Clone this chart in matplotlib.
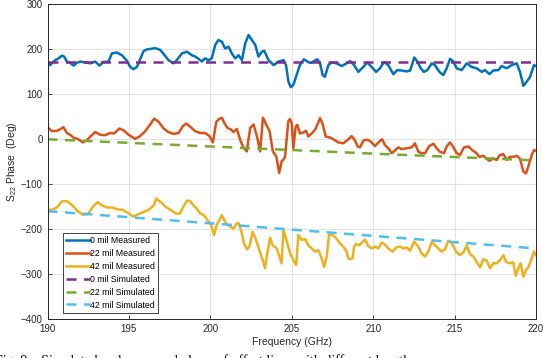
import numpy as np
import matplotlib.pyplot as plt

plt.rcParams['font.family'] = ['Liberation Sans', 'DejaVu Sans']
plt.rcParams['mathtext.default'] = 'regular'

# ---- 0 mil measured ----
f_0m = [190.00, 190.16, 190.47, 190.68, 190.88, 191.02, 191.19, 191.39, 191.60, 191.80,
        192.01, 192.31, 192.62, 192.93, 193.19, 193.44, 193.75, 193.95, 194.26, 194.57,
        194.87, 195.08, 195.28, 195.49, 195.69, 195.90, 196.10, 196.31, 196.61, 196.92,
        197.13, 197.43, 197.74, 197.94, 198.25, 198.56, 198.87, 199.07, 199.28, 199.48,
        199.68, 199.89, 200.09, 200.30, 200.50, 200.71, 200.91, 201.12, 201.32, 201.53,
        201.73, 201.94, 202.14, 202.35, 202.55, 202.76, 202.96, 203.17, 203.31, 203.58,
        203.89, 204.19, 204.50, 204.65, 204.80, 204.94, 205.10, 205.30, 205.50, 205.75,
        205.92, 206.12, 206.33, 206.57, 206.74, 206.90, 207.04, 207.25, 207.45, 207.76,
        208.07, 208.37, 208.58, 208.83, 209.09, 209.40, 209.64, 209.91, 210.18, 210.42,
        210.67, 210.93, 211.24, 211.49, 211.75, 212.06, 212.27, 212.53, 212.72, 212.92,
        213.12, 213.33, 213.60, 213.80, 214.07, 214.31, 214.52, 214.72, 214.93, 215.13,
        215.44, 215.75, 216.05, 216.36, 216.67, 216.87, 217.14, 217.38, 217.69, 217.90,
        218.20, 218.51, 218.82, 219.02, 219.23, 219.43, 219.64, 219.88, 220.00]
p_0m = [169, 165, 176, 180, 186, 184, 173, 170, 164, 170,
        173, 171, 169, 173, 164, 172, 173, 191, 193, 187,
        175, 161, 156, 161, 178, 196, 200, 201, 203, 199,
        190, 176, 169, 176, 191, 195, 187, 184, 179, 173,
        180, 176, 180, 210, 221, 217, 202, 206, 191, 180,
        187, 176, 213, 232, 221, 210, 184, 195, 197, 176,
        165, 173, 176, 165, 128, 116, 121, 143, 165, 178,
        174, 170, 173, 178, 169, 143, 139, 165, 171, 169,
        163, 169, 174, 165, 150, 161, 171, 161, 150, 158,
        172, 165, 145, 154, 153, 151, 153, 182, 173, 158,
        150, 154, 169, 165, 150, 143, 158, 179, 173, 158,
        154, 169, 161, 158, 150, 154, 145, 153, 154, 163,
        158, 165, 169, 150, 119, 128, 139, 165, 163]

# ---- 22 mil measured ----
f_22m = [190.00, 190.27, 190.57, 190.82, 190.98, 191.19, 191.43, 191.60, 191.84, 192.17,
         192.42, 192.66, 192.93, 193.24, 193.54, 193.85, 194.09, 194.42, 194.67, 194.98,
         195.38, 195.69, 196.00, 196.31, 196.55, 196.82, 197.13, 197.43, 197.74, 198.05,
         198.31, 198.52, 198.76, 199.07, 199.38, 199.68, 199.95, 200.16, 200.36, 200.50,
         200.71, 200.85, 201.06, 201.26, 201.42, 201.63, 201.83, 202.04, 202.24, 202.45,
         202.65, 202.86, 203.06, 203.23, 203.43, 203.64, 203.84, 204.05, 204.23, 204.39,
         204.48, 204.59, 204.69, 204.79, 204.89, 205.00, 205.10, 205.24, 205.34, 205.51,
         205.71, 205.88, 206.02, 206.23, 206.43, 206.63, 206.74, 206.88, 207.09, 207.35,
         207.60, 207.86, 208.17, 208.48, 208.68, 208.89, 209.05, 209.19, 209.40, 209.64,
         209.85, 210.12, 210.38, 210.55, 210.73, 210.93, 211.14, 211.34, 211.55, 211.75,
         212.06, 212.37, 212.57, 212.78, 212.98, 213.19, 213.45, 213.70, 213.90, 214.11,
         214.35, 214.52, 214.72, 214.89, 215.13, 215.34, 215.58, 215.85, 216.11, 216.32,
         216.52, 216.77, 216.97, 217.14, 217.38, 217.59, 217.79, 218.00, 218.20, 218.41,
         218.61, 218.82, 219.02, 219.23, 219.39, 219.53, 219.74, 219.88, 220.00]
p_22m = [27, 18, 19, 23, 27, 14, 9, 3, 1, -7,
         -2, 7, 16, 10, 9, 14, 13, 24, 20, 10,
         1, 7, 18, 33, 46, 39, 24, 16, 12, 14,
         29, 35, 28, 18, 14, 14, 7, -7, 38, 44,
         48, 37, 25, 22, 16, 23, -1, -19, -27, 25,
         33, 7, -27, 48, 33, 18, -27, -38, -75, -48,
         -46, -39, 0, 40, 45, 36, -20, 28, 32, 13,
         15, 19, 6, 13, 21, 37, 47, 36, 6, 4,
         -1, -7, -9, 0, 7, -3, -16, -18, -3, -1,
         -5, -15, -5, 0, -13, -20, -31, -25, -18, -22,
         -20, -18, -9, -28, -31, -31, -15, -10, -20, -28,
         -31, -16, -7, -15, -31, -35, -18, -16, -25, -30,
         -39, -37, -43, -48, -43, -46, -35, -33, -46, -39,
         -39, -37, -43, -72, -76, -61, -35, -24, -26]

# ---- 42 mil measured ----
f_42m = [190.00, 190.26, 190.57, 190.89, 191.21, 191.53, 191.85, 192.17, 192.49, 192.81,
         193.09, 193.34, 193.66, 193.98, 194.30, 194.62, 194.94, 195.26, 195.57, 195.89,
         196.21, 196.53, 196.68, 196.96, 197.28, 197.60, 197.91, 198.14, 198.34, 198.55,
         198.75, 198.96, 199.16, 199.37, 199.61, 199.82, 200.02, 200.23, 200.39, 200.56,
         200.70, 200.86, 201.01, 201.25, 201.42, 201.58, 201.72, 201.89, 202.07, 202.25,
         202.40, 202.60, 202.81, 203.01, 203.22, 203.36, 203.50, 203.67, 203.83, 204.08,
         204.24, 204.38, 204.49, 204.69, 204.90, 205.10, 205.27, 205.41, 205.61, 205.82,
         206.02, 206.23, 206.43, 206.64, 206.84, 206.99, 207.15, 207.29, 207.50, 207.70,
         207.93, 208.13, 208.34, 208.48, 208.58, 208.74, 208.83, 208.95, 209.15, 209.36,
         209.50, 209.71, 209.91, 210.12, 210.32, 210.53, 210.73, 210.93, 211.20, 211.41,
         211.65, 211.86, 212.06, 212.27, 212.51, 212.78, 212.98, 213.19, 213.39, 213.60,
         213.80, 214.01, 214.21, 214.42, 214.62, 214.82, 215.09, 215.34, 215.54, 215.75,
         215.95, 216.16, 216.36, 216.57, 216.77, 216.97, 217.18, 217.38, 217.59, 217.79,
         218.00, 218.16, 218.37, 218.61, 218.76, 218.92, 219.06, 219.23, 219.39, 219.53,
         219.74, 219.88, 220.00]
p_42m = [-157, -157, -152, -138, -138, -147, -160, -168, -166, -149,
         -140, -147, -152, -152, -156, -157, -164, -172, -167, -162,
         -157, -147, -132, -140, -151, -158, -166, -165, -150, -137,
         -137, -147, -154, -165, -169, -180, -187, -213, -191, -180,
         -169, -180, -189, -195, -199, -189, -186, -202, -232, -245,
         -239, -206, -224, -247, -269, -287, -254, -219, -236, -243,
         -261, -276, -201, -226, -254, -269, -280, -213, -224, -222,
         -236, -243, -250, -247, -265, -284, -261, -213, -213, -219,
         -230, -238, -247, -265, -267, -265, -239, -233, -236, -228,
         -223, -238, -243, -239, -243, -230, -234, -243, -250, -241,
         -239, -243, -241, -248, -228, -239, -254, -261, -250, -228,
         -236, -243, -250, -245, -226, -230, -250, -258, -252, -236,
         -256, -261, -273, -285, -267, -270, -287, -276, -276, -269,
         -258, -273, -276, -274, -304, -287, -276, -306, -291, -285,
         -265, -250, -258]

# ---- simulated ----
f_sim = [190, 200, 210, 220]
p_0s = [171, 171, 171, 171]
p_22s = [0, -16, -32, -47]
p_42s = [-160, -187, -215, -243]

c_0m, c_22m, c_42m = '#0072BD', '#D95319', '#EDB120'
c_0s, c_22s, c_42s = '#7E2F8E', '#77AC30', '#4DBEEE'

fig = plt.figure(figsize=(5.43, 3.58), dpi=100)
ax = fig.add_axes([0.0875, 0.109, 0.8995, 0.8785])

lw = 1.8
ax.plot(f_0m, p_0m, color=c_0m, lw=lw, label='0 mil Measured')
ax.plot(f_22m, p_22m, color=c_22m, lw=lw, label='22 mil Measured')
ax.plot(f_42m, p_42m, color=c_42m, lw=lw, label='42 mil Measured')
ax.plot(f_sim, p_0s, color=c_0s, lw=lw, ls=(0, (4, 3)), label='0 mil Simulated')
ax.plot(f_sim, p_22s, color=c_22s, lw=lw, ls=(0, (4, 3)), label='22 mil Simulated')
ax.plot(f_sim, p_42s, color=c_42s, lw=lw, ls=(0, (4, 3)), label='42 mil Simulated')

ax.set_xlim(190, 220)
ax.set_ylim(-400, 300)
ax.set_xticks(np.arange(190, 221, 5))
ax.set_yticks(np.arange(-400, 301, 100))
ax.grid(True, color='#e3e3e3', lw=0.8)
ax.set_axisbelow(True)
ax.tick_params(direction='in', length=3, labelsize=7, colors='#262626', width=0.6)
for s in ax.spines.values():
    s.set_color('#262626')
    s.set_linewidth(0.7)

ax.set_xlabel('Frequency (GHz)', fontsize=7.5, color='#262626', labelpad=2)
ax.set_ylabel('S$_{22}$ Phase  (Deg)', fontsize=7.5, color='#262626', labelpad=1)

leg = ax.legend(loc='lower left', bbox_to_anchor=(0.026, 0.012), fontsize=6.3,
                handlelength=2.7, handletextpad=0.1, labelspacing=0.45,
                borderpad=0.35, borderaxespad=0.3, fancybox=False, framealpha=1,
                edgecolor='#262626')
leg.get_frame().set_linewidth(0.6)

# caption line below the figure, mostly cut off by the bottom edge
fig.text(-0.01, -0.028, 'Fig. 9.   Simulated and measured phase of offset lines with different lengths.',
         fontsize=10, family=['Liberation Serif', 'DejaVu Serif'], va='bottom', ha='left')

fig.savefig('out.png', dpi=100)
